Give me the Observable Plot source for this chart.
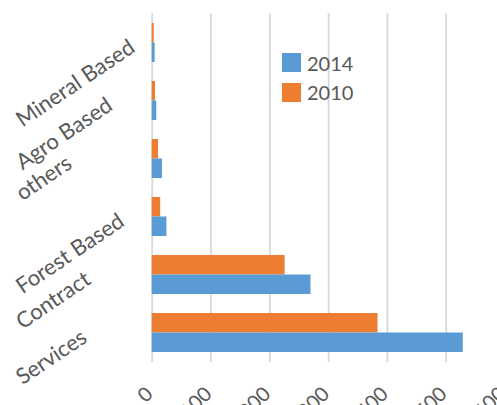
<!DOCTYPE html>
<html><head><meta charset="utf-8">
<script src="https://cdn.jsdelivr.net/npm/d3@7"></script>
<script src="https://cdn.jsdelivr.net/npm/@observablehq/plot@0.6"></script>
<style>
body{margin:0;background:#fff;}
#chart{position:relative;width:497px;height:405px;overflow:hidden;}
.legend{position:absolute;left:282px;top:48px;font-family:Lato,sans-serif;font-size:20px;color:#595959;}
.legend .row{display:flex;align-items:center;height:29.5px;}
.legend .sw{width:19px;height:19px;margin-right:6px;}
</style></head><body><div id="chart"></div>
<script>
const categories = ["Mineral Based","Agro Based","others","Forest Based","Contract","Services"];
const series = ["2014","2010"];
const colors = ["#5B9BD5","#ED7D31"];
const values2014 = [5, 7.8, 17.4, 25, 270, 529];
const values2010 = [3.4, 5.6, 10.7, 14.5, 226, 384];
const xTicks = [0,100,200,300,400,500,600];
const xTickLabels = ["0","100","200","300","400","500","600"];

const rows2014 = categories.map((c,i)=>({category:c, value:values2014[i]}));
const rows2010 = categories.map((c,i)=>({category:c, value:values2010[i]}));
const tickRows = xTicks.map((v,i)=>({v, label:xTickLabels[i]}));

const catAngle = 34;
const tickAngle = 44;
const plot = Plot.plot({
  width: 497, height: 405,
  marginLeft: 151.7, marginRight: 0, marginTop: 13, marginBottom: 43,
  style: {fontFamily: "Lato, sans-serif", background: "#fff"},
  x: {domain: [0, 587.2], axis: null},
  y: {type: "band", domain: categories, paddingInner: 0.33, paddingOuter: 0.165, axis: null},
  marks: [
    Plot.ruleX(xTicks.filter(v => v <= 587.2), {stroke: "#d9d9d9", strokeWidth: 1.8}),
    Plot.barX(rows2010, {x: "value", y: "category", fill: colors[1], insetBottom: 19.5}),
    Plot.barX(rows2014, {x: "value", y: "category", fill: colors[0], insetTop: 19.5}),
    Plot.text(tickRows, {x: "v", text: "label", frameAnchor: "bottom", dy: 33, dx: 2,
      textAnchor: "end", rotate: -tickAngle, fontSize: 20, fill: "#595959", fontFamily: "Lato, sans-serif"}),
    Plot.text(categories, {y: d => d, text: d => d, frameAnchor: "left",
      textAnchor: "start", rotate: -catAngle, fontSize: 22, fill: "#595959", fontFamily: "Lato, sans-serif"})
  ]
});
const chart = document.getElementById("chart");
chart.appendChild(plot);

// rotated category labels: start near the left edge, end at the band centre
const rad = catAngle * Math.PI / 180;
const catSet = new Set(categories);
plot.querySelectorAll("text").forEach(t => {
  if (!catSet.has(t.textContent)) return;
  const tr = t.getAttribute("transform") || "";
  const m = /translate\(\s*([-\d.e]+)[ ,]+([-\d.e]+)\s*\)/.exec(tr);
  if (!m) return;
  const y = +m[2];
  const L = t.getComputedTextLength();
  t.setAttribute("transform", `translate(18,${y + 2 + L * Math.sin(rad)}) rotate(${-catAngle})`);
});

// legend
const legend = document.createElement("div");
legend.className = "legend";
series.forEach((s,i) => {
  const row = document.createElement("div");
  row.className = "row";
  const sw = document.createElement("div");
  sw.className = "sw";
  sw.style.background = colors[i];
  const lab = document.createElement("span");
  lab.textContent = s;
  row.appendChild(sw); row.appendChild(lab);
  legend.appendChild(row);
});
chart.appendChild(legend);
</script></body></html>
